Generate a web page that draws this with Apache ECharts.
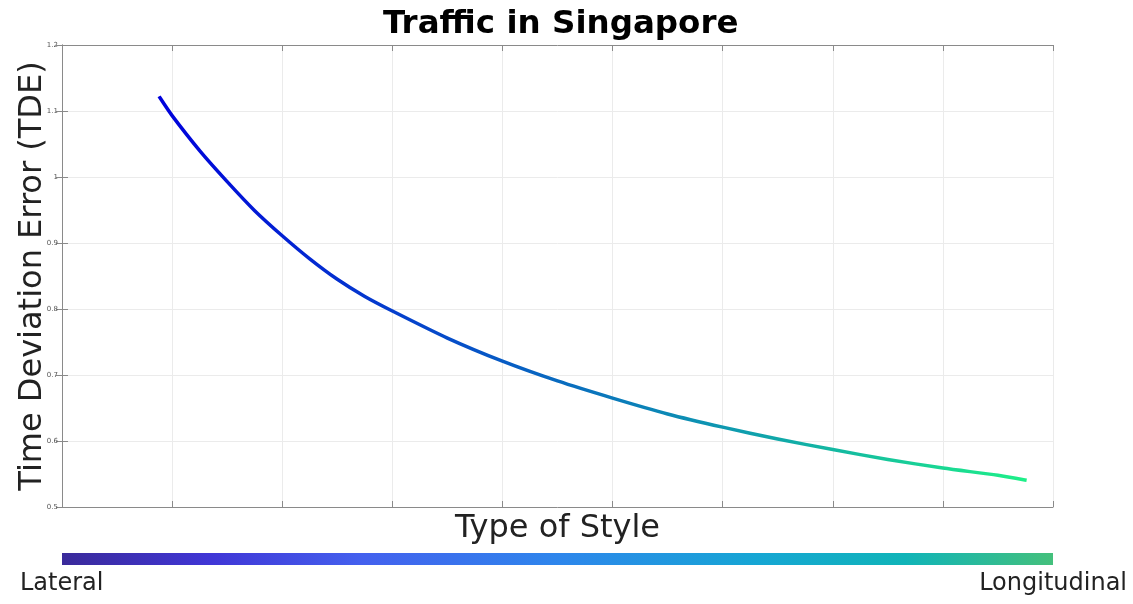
<!DOCTYPE html>
<html>
  <head>
    <meta charset="utf-8" />
    <title>Traffic in Singapore</title>
    <script src="https://cdn.jsdelivr.net/npm/echarts@6/dist/echarts.min.js"></script>
    <style>
      html, body { margin: 0; padding: 0; background: #fff; }
    </style>
  </head>
  <body>
    <div id="chart" style="width: 1133px; height: 604px"></div>

    <script type="text/javascript">
// Values.
const style_x = [0.89, 1, 1.25, 1.5, 1.75, 2, 2.25, 2.5, 2.75, 3, 3.5, 4, 4.5, 5, 5.5, 6, 6.5, 7, 7.5, 8, 8.5, 8.745];
const tde = [1.120, 1.093, 1.040, 0.993, 0.949, 0.911, 0.876, 0.845, 0.819, 0.797, 0.756, 0.721, 0.691, 0.665, 0.641, 0.621, 0.603, 0.587, 0.572, 0.559, 0.548, 0.541];

const font = 'DejaVu Sans';
const axis_color = '#8a8a8a';

const chart = echarts.init(document.getElementById('chart'));

const x_common = {
  type: 'value',
  min: 0,
  max: 9,
  interval: 1,
  axisLine: { show: true, lineStyle: { color: axis_color } },
  axisTick: { show: true, inside: true, length: 6, lineStyle: { color: axis_color } },
  axisLabel: { show: false },
};

const y_common = {
  type: 'value',
  min: 0.5,
  max: 1.2,
  interval: 0.1,
  axisLine: { show: true, lineStyle: { color: axis_color } },
  axisTick: { show: true, inside: true, length: 6, lineStyle: { color: axis_color } },
};

chart.setOption({
  animation: false,
  title: {
    text: 'Traffic in Singapore',
    left: 378,
    top: 3,
    textStyle: { fontFamily: font, fontWeight: 'bold', fontSize: 32.5, color: '#000' }
  },
  grid: { left: 62, right: 80, top: 45, bottom: 97, outerBoundsMode: 'none', containLabel: false },
  xAxis: [
    Object.assign({}, x_common, {
      position: 'bottom',
      name: 'Type of Style',
      nameLocation: 'middle',
      nameGap: 6,
      nameTextStyle: { fontFamily: font, fontSize: 32, color: '#222' },
      splitLine: { show: true, lineStyle: { color: '#ebebeb' } },
    }),
    Object.assign({}, x_common, { position: 'top', splitLine: { show: false } }),
  ],
  yAxis: [
    Object.assign({}, y_common, {
      position: 'left',
      name: 'Time Deviation Error (TDE)',
      nameLocation: 'middle',
      nameGap: 13,
      nameMoveOverlap: false,
      nameTextStyle: { fontFamily: font, fontSize: 32, color: '#222' },
      axisLabel: {
        fontFamily: font, fontSize: 7, color: '#555', margin: 4,
        formatter: (v) => String(Math.round(v * 10) / 10)
      },
      splitLine: { show: true, lineStyle: { color: '#ebebeb' } },
    }),
    Object.assign({}, y_common, {
      position: 'right',
      axisLabel: { show: false },
      splitLine: { show: false },
    }),
  ],
  series: [{
    type: 'line',
    data: style_x.map((x, i) => [x, tde[i]]),
    smooth: 0.25,
    showSymbol: false,
    lineStyle: {
      width: 3.5,
      cap: 'square',
      join: 'round',
      color: new echarts.graphic.LinearGradient(0, 0, 1, 0, [
        { offset: 0, color: '#0000dc' },
        { offset: 0.35, color: '#0650c8' },
        { offset: 0.65, color: '#0e98b0' },
        { offset: 1, color: '#1ef088' }
      ])
    }
  }],
  graphic: [
    {
      type: 'rect',
      shape: { x: 62, y: 553, width: 991, height: 12 },
      style: {
        fill: new echarts.graphic.LinearGradient(0, 0, 1, 0, [
          { offset: 0, color: '#3a2a9a' },
          { offset: 0.15, color: '#4036d6' },
          { offset: 0.3, color: '#4460ee' },
          { offset: 0.5, color: '#2e86ec' },
          { offset: 0.7, color: '#16a6d4' },
          { offset: 0.85, color: '#10b4b8' },
          { offset: 1, color: '#44c07c' }
        ])
      }
    },
    {
      type: 'text',
      left: 20,
      top: 572,
      style: { text: 'Lateral', font: '24px "DejaVu Sans"', fill: '#222' }
    },
    {
      type: 'text',
      right: 6,
      top: 572,
      style: { text: 'Longitudinal', font: '24px "DejaVu Sans"', fill: '#222' }
    }
  ]
});
    </script>
  </body>
</html>
